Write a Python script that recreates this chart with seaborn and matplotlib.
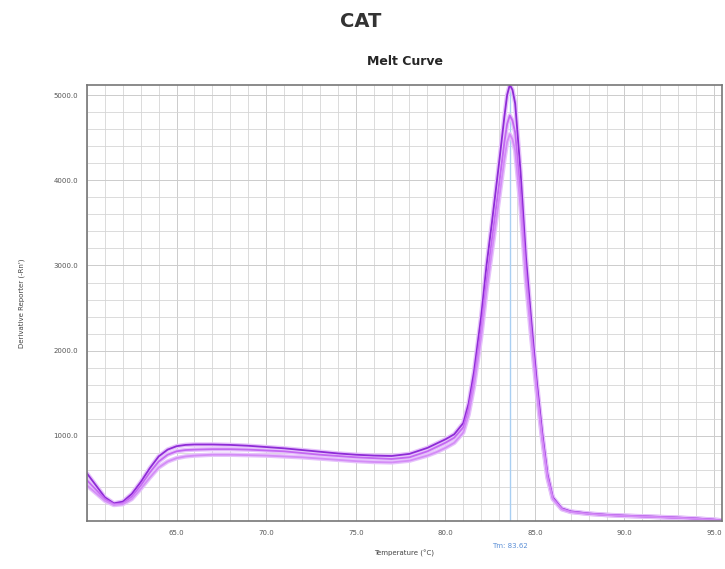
import numpy as np
import pandas as pd
import matplotlib
matplotlib.use('Agg')
import matplotlib.pyplot as plt
from matplotlib.ticker import MultipleLocator
import seaborn as sns

# melt curve readings (temperature in C, derivative reporter -Rn')
temperature = [60.0, 60.5, 61.0, 61.5, 62.0, 62.5, 63.0, 63.5, 64.0, 64.5,
               65.0, 65.5, 66.0, 67.0, 68.0, 69.0, 70.0, 71.0, 72.0, 73.0,
               74.0, 75.0, 76.0, 77.0, 78.0, 79.0, 79.5, 80.0, 80.5, 81.0,
               81.3, 81.6, 82.0, 82.3, 82.6, 83.0, 83.3, 83.45, 83.6, 83.75,
               83.9, 84.2, 84.5, 84.8, 85.1, 85.4, 85.7, 86.0, 86.5, 87.0,
               88.0, 89.0, 90.0, 91.0, 92.0, 93.0, 94.0, 95.0, 95.4]

well_a = [560, 420, 280, 210, 230, 320, 460, 620, 760, 840,
          880, 895, 900, 900, 895, 885, 870, 855, 835, 815,
          795, 780, 770, 765, 790, 860, 910, 960, 1020, 1150,
          1380, 1750, 2400, 3000, 3500, 4200, 4750, 5000, 5120, 5060,
          4900, 4100, 3100, 2350, 1650, 1050, 550, 280, 150, 115,
          90, 75, 65, 58, 50, 42, 32, 18, 10]

well_b = [480, 370, 260, 200, 210, 290, 420, 570, 700, 780,
          820, 835, 840, 845, 845, 840, 830, 820, 800, 780,
          765, 750, 740, 730, 750, 820, 870, 920, 980, 1100,
          1320, 1660, 2260, 2820, 3300, 3950, 4450, 4660, 4760, 4700,
          4560, 3850, 2930, 2230, 1570, 1000, 530, 270, 145, 110,
          88, 73, 63, 56, 48, 40, 30, 17, 10]

well_c = [420, 330, 240, 190, 200, 260, 380, 510, 630, 700,
          740, 760, 770, 780, 780, 775, 770, 760, 750, 735,
          720, 705, 695, 690, 710, 770, 810, 860, 920, 1040,
          1250, 1580, 2160, 2700, 3160, 3780, 4250, 4450, 4540, 4480,
          4350, 3680, 2820, 2150, 1520, 970, 510, 260, 140, 108,
          86, 72, 62, 55, 47, 39, 29, 16, 10]

wells = ['A', 'B', 'C']
well_colors = ['#8e2bd6', '#c468f2', '#d48cf7']
tm_value = 83.62

df = pd.DataFrame({'Temperature': temperature * 3,
                   'Deriv': well_a + well_b + well_c,
                   'Well': np.repeat(wells, len(temperature))})

sns.set_style('whitegrid')
plt.rcParams['font.family'] = ['DejaVu Sans']

fig = plt.figure(figsize=(7.25, 5.69), dpi=100)
ax = fig.add_axes([0.12, 0.084, 0.876, 0.767])

# light halo first, then the line itself
sns.lineplot(data=df, x='Temperature', y='Deriv', hue='Well', palette=['#e6c2fb'] * 3,
             linewidth=3.2, legend=False, ax=ax, sort=False)
sns.lineplot(data=df, x='Temperature', y='Deriv', hue='Well', palette=well_colors,
             linewidth=1.3, legend=False, ax=ax, sort=False)

ax.axvline(tm_value, color='#a9cff2', linewidth=1.0, zorder=1)

ax.set_xlim(60.0, 95.45)
ax.set_ylim(0, 5120)
ax.xaxis.set_minor_locator(MultipleLocator(1))
ax.yaxis.set_minor_locator(MultipleLocator(200))
ax.set_xticks([65, 70, 75, 80, 85, 90, 95])
ax.set_xticklabels(['65.0', '70.0', '75.0', '80.0', '85.0', '90.0', '95.0'])
ax.set_yticks([1000, 2000, 3000, 4000, 5000])
ax.set_yticklabels(['1000.0', '2000.0', '3000.0', '4000.0', '5000.0'])
ax.grid(which='major', color='#cccccc', linewidth=0.7)
ax.grid(which='minor', color='#d6d6d6', linewidth=0.6)
ax.tick_params(axis='both', labelsize=5, colors='#555555', length=3, which='major')
ax.tick_params(axis='both', which='minor', length=0)
for s in ax.spines.values():
    s.set_color('#777777')
    s.set_linewidth(1.2)

ax.set_xlabel('Temperature (°C)', fontsize=5, color='#444444', labelpad=10)
ax.set_ylabel("Derivative Reporter (-Rn')", fontsize=5, color='#444444', labelpad=20)
ax.set_title('Melt Curve', fontsize=9, fontweight='bold', pad=14)
ax.text(tm_value, -0.05, 'Tm: 83.62', transform=ax.get_xaxis_transform(),
        ha='center', va='top', fontsize=5, color='#5b8fd6')

fig.text(0.498, 0.962, 'CAT', ha='center', va='center', fontsize=14, fontweight='bold',
         color='#333333')

fig.savefig('out.png', dpi=100)
